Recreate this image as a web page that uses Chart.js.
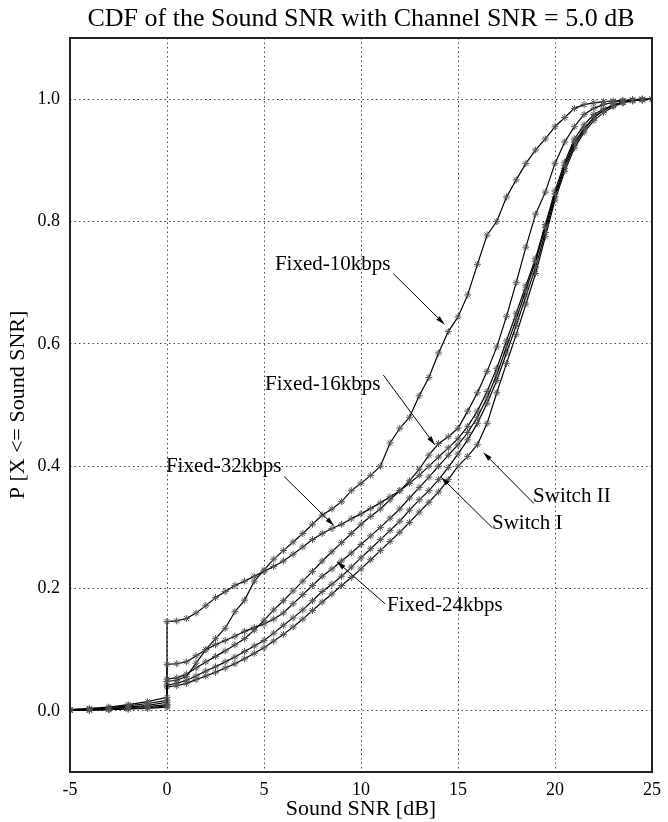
<!DOCTYPE html>
<html>
<head>
<meta charset="utf-8">
<script src="https://cdn.jsdelivr.net/npm/chart.js@4.4.0/dist/chart.umd.min.js"></script>
<style>
  html, body { margin: 0; padding: 0; background: #fff; }
  #wrap { width: 668px; height: 822px; }
</style>
</head>
<body>
<div id="wrap"><canvas id="cdfChart"></canvas></div>
<script>
// Sound SNR sample points [dB]; 0 appears twice for the jump of the CDF
const snrPoints = [-5, -4, -3, -2, -1, 0,
  0, 0.5, 1, 1.5, 2, 2.5, 3, 3.5, 4, 4.5, 5, 5.5, 6, 6.5, 7, 7.5, 8, 8.5, 9, 9.5,
  10, 10.5, 11, 11.5, 12, 12.5, 13, 13.5, 14, 14.5, 15, 15.5, 16, 16.5, 17, 17.5, 18, 18.5, 19, 19.5,
  20, 20.5, 21, 21.5, 22, 22.5, 23, 23.5, 24, 24.5, 25];

const fixed10 = [0.002, 0.004, 0.006, 0.010, 0.015, 0.022,
  0.048, 0.050, 0.056, 0.078, 0.100, 0.118, 0.135, 0.162, 0.181, 0.212, 0.230, 0.248, 0.262, 0.276, 0.290, 0.305, 0.320, 0.330, 0.342, 0.360,
  0.372, 0.385, 0.400, 0.438, 0.462, 0.480, 0.515, 0.545, 0.585, 0.620, 0.644, 0.680, 0.730, 0.778, 0.800, 0.840, 0.868, 0.895, 0.917, 0.935,
  0.955, 0.970, 0.985, 0.991, 0.994, 0.996, 0.997, 0.998, 0.999, 1.000, 1.000];
const fixed16 = [0.001, 0.002, 0.003, 0.005, 0.007, 0.010,
  0.052, 0.054, 0.060, 0.070, 0.080, 0.089, 0.098, 0.108, 0.118, 0.132, 0.148, 0.165, 0.180, 0.196, 0.212, 0.228, 0.245, 0.260, 0.275, 0.290,
  0.305, 0.318, 0.330, 0.345, 0.360, 0.376, 0.395, 0.418, 0.437, 0.448, 0.462, 0.490, 0.520, 0.555, 0.595, 0.645, 0.700, 0.758, 0.812, 0.848,
  0.895, 0.930, 0.955, 0.975, 0.985, 0.991, 0.995, 0.997, 0.999, 1.000, 1.000];
const fixed24 = [0.001, 0.002, 0.004, 0.006, 0.009, 0.014,
  0.076, 0.077, 0.080, 0.090, 0.100, 0.108, 0.115, 0.122, 0.130, 0.136, 0.142, 0.150, 0.160, 0.175, 0.190, 0.205, 0.220, 0.232, 0.245, 0.258,
  0.272, 0.286, 0.300, 0.315, 0.330, 0.348, 0.365, 0.382, 0.400, 0.418, 0.435, 0.455, 0.480, 0.512, 0.550, 0.595, 0.640, 0.688, 0.735, 0.790,
  0.845, 0.892, 0.930, 0.952, 0.970, 0.982, 0.990, 0.995, 0.998, 0.999, 1.000];
const fixed32 = [0.002, 0.003, 0.005, 0.008, 0.012, 0.017,
  0.146, 0.147, 0.151, 0.160, 0.172, 0.185, 0.195, 0.205, 0.212, 0.220, 0.228, 0.236, 0.245, 0.256, 0.268, 0.280, 0.290, 0.298, 0.305, 0.314,
  0.322, 0.331, 0.340, 0.350, 0.360, 0.372, 0.385, 0.400, 0.415, 0.430, 0.445, 0.465, 0.490, 0.522, 0.560, 0.605, 0.650, 0.695, 0.740, 0.795,
  0.850, 0.897, 0.935, 0.958, 0.975, 0.984, 0.990, 0.995, 0.998, 0.999, 1.000];
const switch1 = [0.001, 0.001, 0.002, 0.003, 0.005, 0.008,
  0.042, 0.045, 0.050, 0.057, 0.065, 0.072, 0.080, 0.088, 0.097, 0.106, 0.115, 0.127, 0.140, 0.152, 0.165, 0.180, 0.195, 0.207, 0.220, 0.235,
  0.250, 0.265, 0.280, 0.295, 0.310, 0.328, 0.345, 0.360, 0.378, 0.398, 0.420, 0.443, 0.470, 0.503, 0.540, 0.585, 0.630, 0.678, 0.725, 0.782,
  0.840, 0.887, 0.925, 0.950, 0.970, 0.982, 0.990, 0.995, 0.998, 0.999, 1.000];
const switch2 = [0.001, 0.001, 0.002, 0.003, 0.004, 0.006,
  0.039, 0.041, 0.045, 0.051, 0.057, 0.063, 0.070, 0.077, 0.085, 0.094, 0.103, 0.114, 0.125, 0.137, 0.150, 0.164, 0.178, 0.191, 0.205, 0.218,
  0.232, 0.247, 0.262, 0.277, 0.292, 0.308, 0.325, 0.341, 0.358, 0.378, 0.400, 0.416, 0.435, 0.470, 0.520, 0.568, 0.615, 0.665, 0.715, 0.775,
  0.835, 0.882, 0.920, 0.946, 0.965, 0.978, 0.988, 0.994, 0.997, 0.999, 1.000];

const seriesNames = ['Fixed-10kbps', 'Fixed-16kbps', 'Fixed-24kbps', 'Fixed-32kbps', 'Switch I', 'Switch II'];
const seriesValues = [fixed10, fixed16, fixed24, fixed32, switch1, switch2];

const yTickValues = [0, 0.2, 0.4, 0.6, 0.8, 1.0];
const chartTitle = 'CDF of the Sound SNR with Channel SNR = 5.0 dB';

// curve labels and their arrows, in data units
const labelTexts = ['Fixed-10kbps', 'Fixed-16kbps', 'Fixed-32kbps', 'Fixed-24kbps', 'Switch I', 'Switch II'];
const labelX = [8.54, 8.03, 2.92, 14.32, 18.57, 20.87];
const labelY = [0.729, 0.533, 0.399, 0.172, 0.307, 0.350];
const arrowFromX = [11.66, 11.15, 6.04, 11.24, 16.78, 18.91];
const arrowFromY = [0.715, 0.549, 0.383, 0.175, 0.299, 0.339];
const arrowToX = [14.30, 13.80, 8.60, 8.76, 14.13, 16.32];
const arrowToY = [0.632, 0.435, 0.303, 0.244, 0.382, 0.422];

Chart.defaults.font.family = '"Liberation Serif", "Times New Roman", serif';
Chart.defaults.color = '#000';

const datasets = seriesNames.map((name, i) => ({
  label: name,
  data: snrPoints.map((s, k) => ({x: s, y: seriesValues[i][k]})),
  borderColor: '#000',
  borderWidth: 1.2,
  pointStyle: 'star',
  pointRadius: 3.5,
  pointBorderColor: '#555',
  pointBorderWidth: 1,
  pointBackgroundColor: '#555',
  tension: 0,
  fill: false
}));

// frame around the plot area and the title centred over it
const frame = {
  id: 'frame',
  afterDraw(chart) {
    const a = chart.chartArea;
    const ctx = chart.ctx;
    ctx.save();
    ctx.strokeStyle = '#222';
    ctx.lineWidth = 2;
    ctx.strokeRect(a.left, a.top, a.right - a.left, a.bottom - a.top);
    ctx.font = '26px "Liberation Serif"';
    ctx.fillStyle = '#000';
    ctx.textAlign = 'center';
    ctx.textBaseline = 'middle';
    ctx.fillText(chartTitle, (a.left + a.right) / 2, 19);
    ctx.restore();
  }
};

// text labels with arrows pointing to the curves
const annotate = {
  id: 'annotate',
  afterDatasetsDraw(chart) {
    const ctx = chart.ctx;
    const xs = chart.scales.x, ys = chart.scales.y;
    ctx.save();
    ctx.font = '21px "Liberation Serif"';
    ctx.fillStyle = '#000';
    ctx.strokeStyle = '#000';
    ctx.lineWidth = 1;
    ctx.textAlign = 'center';
    ctx.textBaseline = 'middle';
    for (let i = 0; i < labelTexts.length; i++) {
      ctx.fillText(labelTexts[i], xs.getPixelForValue(labelX[i]), ys.getPixelForValue(labelY[i]));
      const x1 = xs.getPixelForValue(arrowFromX[i]), y1 = ys.getPixelForValue(arrowFromY[i]);
      const x2 = xs.getPixelForValue(arrowToX[i]), y2 = ys.getPixelForValue(arrowToY[i]);
      ctx.beginPath();
      ctx.moveTo(x1, y1);
      ctx.lineTo(x2, y2);
      ctx.stroke();
      const ang = Math.atan2(y2 - y1, x2 - x1);
      ctx.beginPath();
      ctx.moveTo(x2, y2);
      ctx.lineTo(x2 - 9 * Math.cos(ang) + 2.5 * Math.sin(ang), y2 - 9 * Math.sin(ang) - 2.5 * Math.cos(ang));
      ctx.lineTo(x2 - 9 * Math.cos(ang) - 2.5 * Math.sin(ang), y2 - 9 * Math.sin(ang) + 2.5 * Math.cos(ang));
      ctx.closePath();
      ctx.fill();
    }
    ctx.restore();
  }
};

new Chart(document.getElementById('cdfChart'), {
  type: 'line',
  data: { datasets: datasets },
  options: {
    responsive: true,
    maintainAspectRatio: false,
    animation: false,
    layout: { padding: { right: 11, top: 38 } },
    plugins: {
      legend: { display: false },
      tooltip: { enabled: false },
      title: { display: false }
    },
    scales: {
      x: {
        type: 'linear',
        min: -5,
        max: 25,
        ticks: { stepSize: 5, padding: 7, font: { size: 18 }, color: '#000' },
        grid: { color: '#444', lineWidth: 1, drawTicks: false },
        border: { display: false, dash: [1.5, 3] },
        title: { display: true, text: 'Sound SNR [dB]', font: { size: 22 }, color: '#000', padding: { top: 0, bottom: 0 } },
        afterFit(scale) { scale.height = 50; }
      },
      y: {
        type: 'linear',
        min: -0.1,
        max: 1.1,
        afterBuildTicks(scale) { scale.ticks = yTickValues.map(v => ({ value: v })); },
        ticks: { padding: 10, font: { size: 18 }, color: '#000', callback: v => Number(v).toFixed(1) },
        grid: { color: '#444', lineWidth: 1, drawTicks: false },
        border: { display: false, dash: [1.5, 3] },
        title: { display: true, text: 'P [X <= Sound SNR]', font: { size: 22 }, color: '#000', padding: { top: 5, bottom: 0 } },
        afterFit(scale) { scale.width = 70; }
      }
    }
  },
  plugins: [frame, annotate]
});
</script>
</body>
</html>
